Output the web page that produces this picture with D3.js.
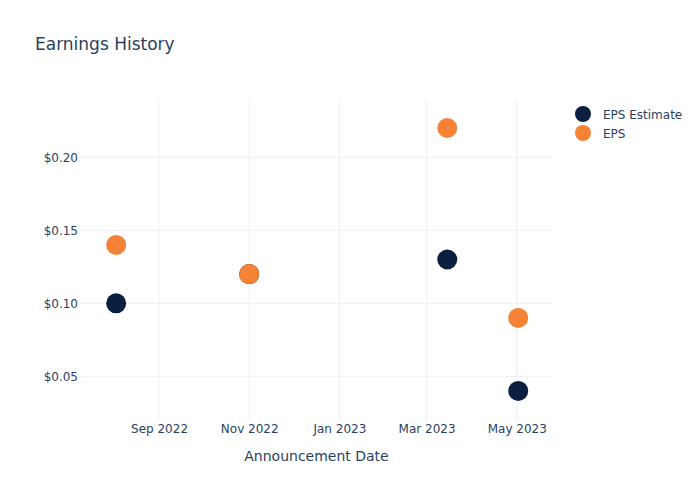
<!DOCTYPE html>
<html><head><meta charset="utf-8">
<script src="https://cdn.jsdelivr.net/npm/d3@7"></script>
<style>body{margin:0;background:#fff}svg{display:block}text{font-family:"DejaVu Sans",Verdana,sans-serif}</style>
</head><body><svg id="c" width="700" height="500"></svg>
<script>
const dates = ["2022-08-03","2022-11-01","2023-03-15","2023-05-02"];
const epsEstimate = [0.10, 0.12, 0.13, 0.04];
const eps = [0.14, 0.12, 0.22, 0.09];
const seriesNames = ["EPS Estimate","EPS"];
const seriesColors = ["#0b1f41","#f68236"];
const yTicks = [0.05,0.10,0.15,0.20];
const xTicks = ["2022-09-01","2022-11-01","2023-01-01","2023-03-01","2023-05-01"];

const parse = d3.timeParse("%Y-%m-%d");
const svg = d3.select("#c");
const L=80, R=553, T=100, B=420;
const x = d3.scaleTime().domain([parse("2022-07-10"), parse("2023-05-26")]).range([L+0.7,R+0.7]);
const y = d3.scaleLinear().domain([0.0201,0.2392]).range([B,T]);
const txt = "#2a3f5f", grid = "#ebf0f8";

// grid
svg.append("g").selectAll("line").data(yTicks).join("line")
  .attr("x1",L).attr("x2",R).attr("y1",d=>y(d)).attr("y2",d=>y(d))
  .attr("stroke",grid).attr("stroke-width",1);
svg.append("g").selectAll("line").data(xTicks).join("line")
  .attr("y1",T).attr("y2",B).attr("x1",d=>x(parse(d))).attr("x2",d=>x(parse(d)))
  .attr("stroke",grid).attr("stroke-width",1);

// axes
const xa = svg.append("g").attr("transform",`translate(0,${B})`)
  .call(d3.axisBottom(x).tickValues(xTicks.map(parse)).tickFormat(d3.timeFormat("%b %Y")).tickSize(0).tickPadding(4));
const ya = svg.append("g").attr("transform",`translate(${L},0)`)
  .call(d3.axisLeft(y).tickValues(yTicks).tickFormat(d=>"$"+d.toFixed(2)).tickSize(0).tickPadding(2));
[xa,ya].forEach(a=>{a.select(".domain").remove();a.selectAll("text").attr("fill",txt).style("font-size","12px").style("font-family","DejaVu Sans");});

// points
const series = [epsEstimate, eps];
series.forEach((vals,i)=>{
  svg.append("g").selectAll("circle").data(vals).join("circle")
    .attr("cx",(d,j)=>x(parse(dates[j]))).attr("cy",d=>y(d)).attr("r",10)
    .attr("fill",seriesColors[i]);
});

// title
svg.append("text").attr("x",35).attr("y",50).text("Earnings History")
  .attr("fill",txt).style("font-size","17px");
svg.append("text").attr("x",(L+R)/2).attr("y",461).attr("text-anchor","middle")
  .text("Announcement Date").attr("fill",txt).style("font-size","14px");

// legend
const lg = svg.append("g").selectAll("g").data(seriesNames).join("g")
  .attr("transform",(d,i)=>`translate(583,${114+i*19})`);
lg.append("circle").attr("r",8).attr("fill",(d,i)=>seriesColors[i]);
lg.append("text").attr("x",20).attr("y",4.5).text(d=>d).attr("fill",txt).style("font-size","12px");
</script></body></html>
